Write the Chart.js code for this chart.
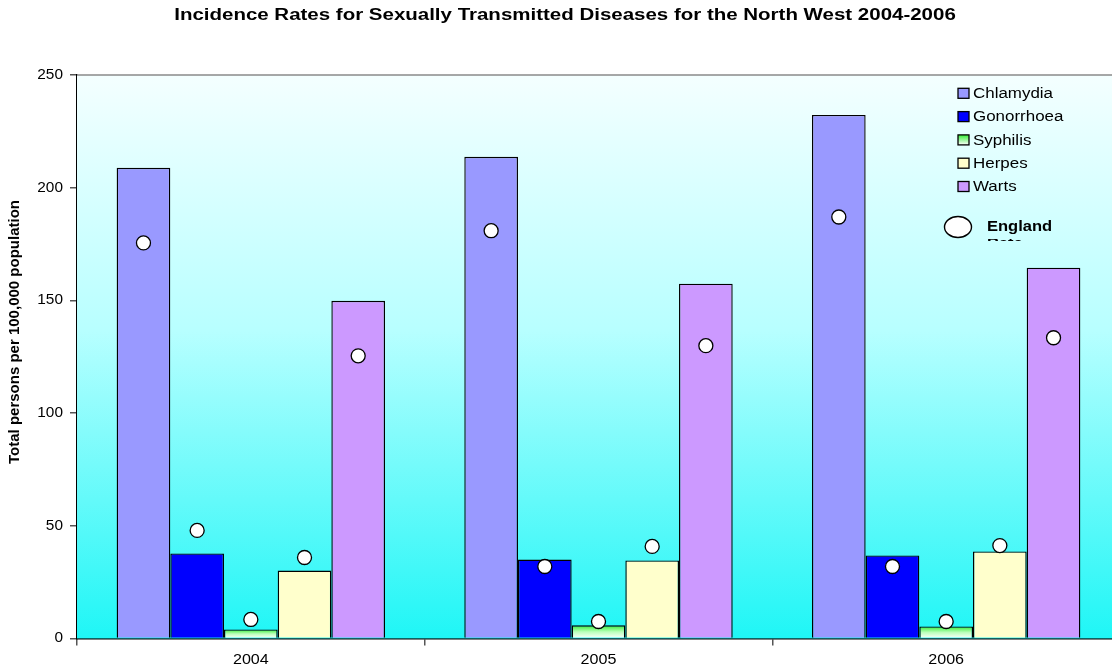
<!DOCTYPE html>
<html>
<head>
<meta charset="utf-8">
<script src="https://cdn.jsdelivr.net/npm/chart.js@4/dist/chart.umd.min.js"></script>
<style>
  html, body { margin: 0; padding: 0; background: #fff; }
  #wrap { position: relative; width: 1112px; height: 669px; overflow: hidden; }
  #chart { position: absolute; left: 0; top: 0; }
</style>
</head>
<body>
<div id="wrap"><canvas id="chart" width="1120" height="669"></canvas></div>
<script>
// values
var years = ['2004', '2005', '2006'];
var diseases = ['Chlamydia', 'Gonorrhoea', 'Syphilis', 'Herpes', 'Warts'];
var chlamydia  = [208.8, 213.7, 232.3];
var gonorrhoea = [37.7, 35.0, 36.8];
var syphilis   = [4.0, 5.8, 5.3];
var herpes     = [30.1, 34.6, 38.6];
var warts      = [149.8, 157.4, 164.5];
// England rate (circles)
var engChlamydia  = [175.5, 180.9, 187.0];
var engGonorrhoea = [47.9, 31.9, 31.9];
var engSyphilis   = [8.4, 7.5, 7.5];
var engHerpes     = [35.9, 40.8, 41.2];
var engWarts      = [125.4, 129.9, 133.4];
var yTicks = [0, 50, 100, 150, 200, 250];

var seriesValues = [chlamydia, gonorrhoea, syphilis, herpes, warts];
var englandValues = [engChlamydia, engGonorrhoea, engSyphilis, engHerpes, engWarts];
var colours = ['#9999ff', '#0000ff', 'syphilis', '#ffffcc', '#cc99ff'];
var font = '"Liberation Sans", Arial, sans-serif';

// the original text is a bit wide, like a stretched Excel export
function wideText(ctx, text, x, y, align, sx) {
  ctx.save();
  ctx.translate(x, y);
  ctx.scale(sx, 1);
  ctx.textAlign = align;
  ctx.fillText(text, 0, 0);
  ctx.restore();
}

function syphilisFill(context) {
  var chart = context.chart;
  var y = chart.scales.y;
  if (!y || context.parsed === undefined) return '#66ff66';
  var top = y.getPixelForValue(context.parsed.y);
  var base = y.getPixelForValue(0);
  if (!isFinite(top) || top >= base) return '#66ff66';
  var g = chart.ctx.createLinearGradient(0, top, 0, base);
  g.addColorStop(0, '#33ee33');
  g.addColorStop(0.5, '#bbffbb');
  g.addColorStop(1, '#ffffff');
  return g;
}

var datasets = diseases.map(function(name, i) {
  return {
    label: name,
    data: seriesValues[i],
    backgroundColor: colours[i] === 'syphilis' ? syphilisFill : colours[i],
    borderColor: '#000',
    borderWidth: 1.4,
    barPercentage: 1,
    categoryPercentage: 0.772
  };
});

var plotBackground = {
  id: 'plotBackground',
  beforeDatasetsDraw: function(chart) {
    var a = chart.chartArea, ctx = chart.ctx;
    var g = ctx.createLinearGradient(0, a.top, 0, a.bottom);
    g.addColorStop(0, '#f4ffff');
    g.addColorStop(0.45, '#b8ffff');
    g.addColorStop(1, '#1ff6f6');
    ctx.save();
    ctx.fillStyle = g;
    ctx.fillRect(a.left, a.top, a.right - a.left, a.bottom - a.top);
    ctx.strokeStyle = '#8a8a8a';
    ctx.lineWidth = 1.5;
    ctx.beginPath();
    ctx.moveTo(a.left, a.top);
    ctx.lineTo(a.right, a.top);
    ctx.stroke();
    ctx.restore();
  }
};

var englandDots = {
  id: 'englandDots',
  afterDatasetsDraw: function(chart) {
    var ctx = chart.ctx, y = chart.scales.y;
    ctx.save();
    englandValues.forEach(function(vals, i) {
      var meta = chart.getDatasetMeta(i);
      vals.forEach(function(v, j) {
        var bar = meta.data[j];
        ctx.beginPath();
        ctx.arc(bar.x, y.getPixelForValue(v), 7, 0, Math.PI * 2);
        ctx.fillStyle = '#fff';
        ctx.fill();
        ctx.lineWidth = 1.3;
        ctx.strokeStyle = '#000';
        ctx.stroke();
      });
    });
    ctx.restore();
  }
};

var textLayer = {
  id: 'textLayer',
  afterDraw: function(chart) {
    var ctx = chart.ctx;
    var xs = chart.scales.x, ys = chart.scales.y;
    ctx.save();
    ctx.fillStyle = '#000';
    ctx.textBaseline = 'middle';

    ctx.font = 'bold 16px ' + font;
    wideText(ctx, 'Incidence Rates for Sexually Transmitted Diseases for the North West 2004-2006', 565, 16, 'center', 1.28);

    // axis labels
    ctx.font = '14px ' + font;
    years.forEach(function(label, i) {
      wideText(ctx, label, xs.getPixelForTick(i), 660, 'center', 1.15);
    });
    yTicks.forEach(function(v) {
      wideText(ctx, String(v), 63, ys.getPixelForValue(v), 'right', 1.1);
    });

    ctx.save();
    ctx.translate(15, 332);
    ctx.rotate(-Math.PI / 2);
    ctx.font = 'bold 15px ' + font;
    ctx.textAlign = 'center';
    ctx.fillText('Total persons per 100,000 population', 0, 0);
    ctx.restore();

    // legend
    ctx.font = '14px ' + font;
    diseases.forEach(function(name, i) {
      var cy = 93.3 + i * 23.3;
      var ds = chart.data.datasets[i];
      if (colours[i] === 'syphilis') {
        var g = ctx.createLinearGradient(0, cy - 5, 0, cy + 5);
        g.addColorStop(0, '#33ee33');
        g.addColorStop(1, '#ffffff');
        ctx.fillStyle = g;
      } else {
        ctx.fillStyle = ds.backgroundColor;
      }
      ctx.fillRect(958, cy - 5, 11, 10);
      ctx.strokeStyle = '#000';
      ctx.lineWidth = 1.3;
      ctx.strokeRect(958, cy - 5, 11, 10);
      ctx.fillStyle = '#000';
      wideText(ctx, name, 973, cy + 1, 'left', 1.21);
    });

    ctx.beginPath();
    ctx.ellipse(958, 227, 13.5, 10.5, 0, 0, Math.PI * 2);
    ctx.fillStyle = '#fff';
    ctx.fill();
    ctx.lineWidth = 1.4;
    ctx.strokeStyle = '#000';
    ctx.stroke();
    ctx.fillStyle = '#000';
    ctx.font = 'bold 14px ' + font;
    wideText(ctx, 'England', 987, 227, 'left', 1.18);
    // second line of the legend label is cut off in the original
    ctx.beginPath();
    ctx.rect(980, 239, 60, 2);
    ctx.clip();
    wideText(ctx, 'Rate', 987, 244, 'left', 1.18);
    ctx.restore();
  }
};

new Chart(document.getElementById('chart'), {
  type: 'bar',
  data: { labels: years, datasets: datasets },
  options: {
    responsive: false,
    animation: false,
    devicePixelRatio: 1,
    layout: { padding: { top: 75, right: 0, bottom: 0, left: 0 } },
    plugins: {
      legend: { display: false },
      title: { display: false },
      tooltip: { enabled: false }
    },
    scales: {
      x: {
        grid: { offset: true, drawOnChartArea: false, drawTicks: true, tickLength: 7, color: '#555', lineWidth: 1.5 },
        border: { color: '#000', width: 1.5 },
        ticks: { color: 'rgba(0,0,0,0)', font: { family: font, size: 13 }, padding: 4 }
      },
      y: {
        min: 0,
        max: 250,
        afterBuildTicks: function(scale) {
          scale.ticks = yTicks.map(function(v) { return { value: v }; });
        },
        afterFit: function(scale) { scale.width = 77; },
        grid: { drawOnChartArea: false, drawTicks: true, tickLength: 7, color: '#555', lineWidth: 1.5 },
        border: { color: '#000', width: 1.5 },
        ticks: { color: 'rgba(0,0,0,0)', font: { family: font, size: 13 }, padding: 4 }
      }
    }
  },
  plugins: [plotBackground, englandDots, textLayer]
});
</script>
</body>
</html>
